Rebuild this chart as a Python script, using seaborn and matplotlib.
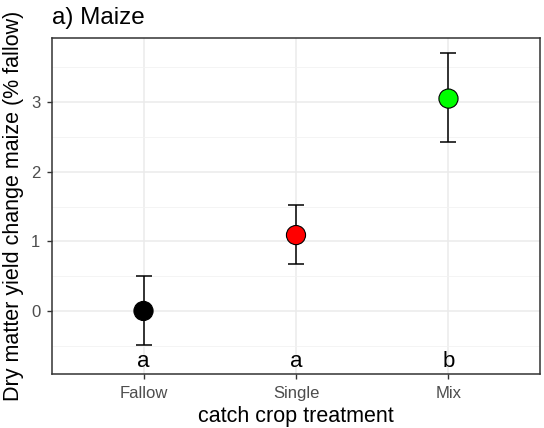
import matplotlib
matplotlib.use("Agg")
import matplotlib.pyplot as plt
import seaborn as sns
import pandas as pd

# data
treatment = ["Fallow", "Single", "Mix"]
mean_change = [0.0, 1.09, 3.05]
ci_low = [-0.49, 0.67, 2.42]
ci_high = [0.50, 1.52, 3.70]
letters = ["a", "a", "b"]
colors = ["#000000", "#FF0000", "#00FF00"]

df = pd.DataFrame({"treatment": treatment, "mean": mean_change,
                   "low": ci_low, "high": ci_high, "letter": letters})

sns.set_style("white")
plt.rcParams["font.family"] = ["Liberation Sans", "DejaVu Sans"]

fig = plt.figure(figsize=(5.44, 4.28), dpi=100)
ax = fig.add_axes([0.0956, 0.1262, 0.8970, 0.7850])

# error bars
yerr = [df["mean"] - df["low"], df["high"] - df["mean"]]
ax.errorbar(df["treatment"], df["mean"], yerr=yerr, fmt="none",
            ecolor="black", elinewidth=1.1, capsize=5.5, capthick=1.1, zorder=3)

# points
sns.scatterplot(data=df, x="treatment", y="mean", hue="treatment",
                palette=colors, s=190, edgecolor="black", linewidth=0.8,
                legend=False, zorder=4, ax=ax)

# significance letters
for _, r in df.iterrows():
    ax.text(r["treatment"], -0.73, r["letter"], ha="center", va="center",
            fontsize=16, color="black")

ax.set_xlim(-0.6, 2.6)
ax.set_ylim(-0.905, 3.92)
ax.set_yticks([0, 1, 2, 3])
ax.set_yticks([-0.5, 0.5, 1.5, 2.5, 3.5], minor=True)

ax.grid(True, which="major", color="#EBEBEB", linewidth=1.1, zorder=0)
ax.grid(True, which="minor", axis="y", color="#F2F2F2", linewidth=0.6, zorder=0)
ax.set_axisbelow(True)

for s in ax.spines.values():
    s.set_color("#333333")
    s.set_linewidth(1.1)

ax.tick_params(axis="both", which="major", length=3.5, width=1, color="#333333",
               labelsize=12, labelcolor="#4D4D4D", pad=5, bottom=True, left=True)
ax.tick_params(axis="both", which="minor", length=0)

ax.set_xlabel("catch crop treatment", fontsize=15.5, color="black", labelpad=4)
ax.set_ylabel("Dry matter yield change maize (% fallow)", fontsize=15.5,
              color="black", labelpad=5)
ax.set_title("a) Maize", loc="left", fontsize=17.5, color="black", pad=10)

fig.savefig("out.png", dpi=100)
